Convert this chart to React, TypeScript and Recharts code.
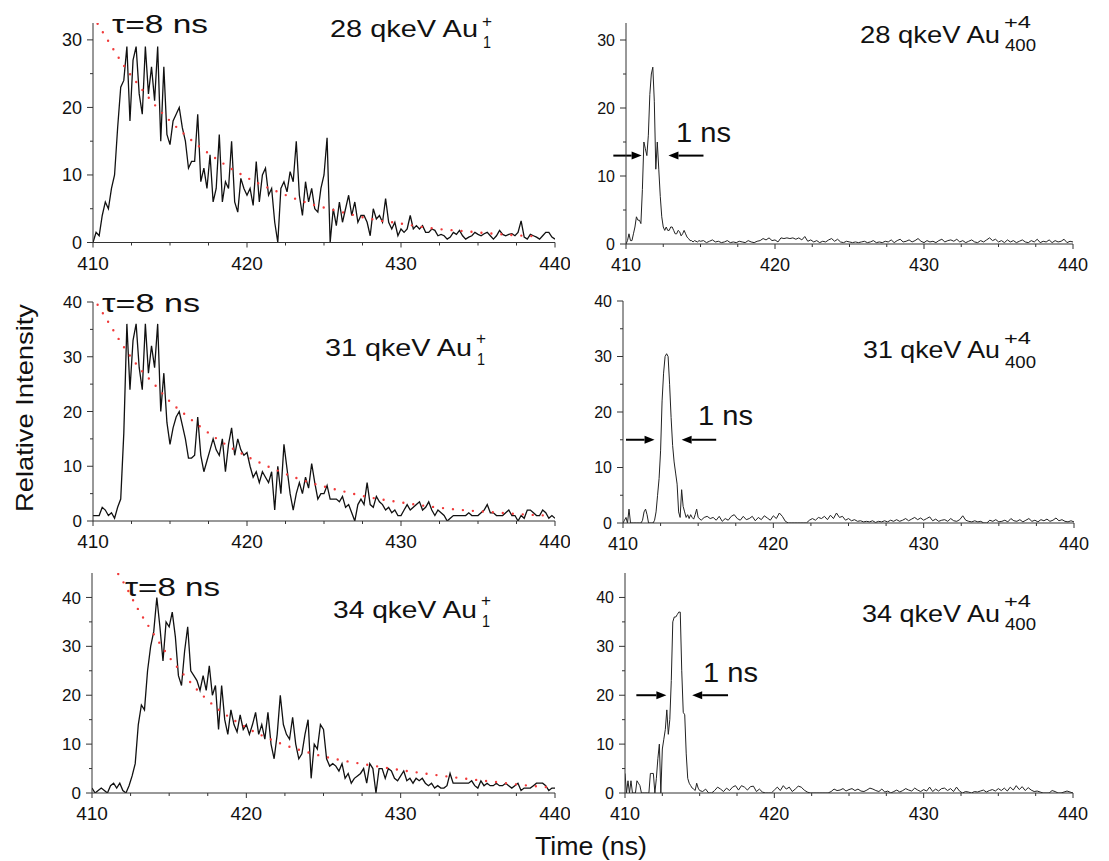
import { LineChart, Line, XAxis, YAxis, ReferenceLine } from 'recharts'

const FONT = '"Liberation Sans", Arial, Helvetica, sans-serif'
const AXIS = '#333'
const INK = '#111'
const FIT = '#f03a3a'

// sampling grids in ns
const leftTimes = Array.from({ length: 151 }, (_, i) => Math.round((410 + i * 0.2) * 10) / 10)
const rightTimes = [
  ...Array.from({ length: 51 }, (_, i) => Math.round((410 + i * 0.1) * 10) / 10),
  ...Array.from({ length: 125 }, (_, i) => Math.round((415.2 + i * 0.2) * 10) / 10),
]

const xTicks = [410, 412.5, 415, 417.5, 420, 422.5, 425, 427.5, 430, 432.5, 435, 437.5, 440]
const yTicks30 = [0, 5, 10, 15, 20, 25, 30]
const yTicks40 = [0, 5, 10, 15, 20, 25, 30, 35, 40]

// Au1+ monomer, 410..440 every 0.2 ns
const mono28 = [
  0, 1.5, 1, 4, 6,
  5, 8, 10, 17, 23,
  24, 29, 18, 27, 29,
  22, 19, 29, 22, 26,
  21, 29, 15, 26, 16,
  14.5, 18, 19, 20, 17,
  15, 11, 12, 12, 19,
  9, 11, 8, 13, 6,
  8, 16, 6, 9, 8,
  15, 6, 4.5, 9.5, 8,
  7, 8, 5.5, 12, 6,
  10, 11, 7, 8, 3,
  0, 8, 9, 7.5, 10.5,
  9, 15, 7, 4, 9,
  6, 8, 5, 4.5, 8,
  10, 15.5, 0, 5, 2.5,
  6, 3, 5, 7, 4,
  6, 3, 4, 4, 3,
  1, 5, 3.5, 4, 3,
  6.5, 3, 2, 3, 1,
  2, 1.5, 2, 4, 2,
  2.5, 2, 2.5, 1.5, 1.5,
  2, 1.8, 1, 1.2, 1,
  0.5, 0.8, 1.5, 1.2, 1.8,
  1, 0.5, 0.8, 1, 1.5,
  1.2, 1, 1.3, 1.5, 1,
  0.5, 1, 1.8, 1.2, 1,
  1.2, 1.3, 1, 1.5, 3.2,
  0.8, 0.5, 1.2, 1, 0.8,
  0.5, 1, 1.5, 1.5, 0.8,
  0.5,
]
const mono31 = [
  1, 1, 1, 2.5, 2,
  1, 1.5, 0.5, 2.5, 4,
  16, 36, 24, 33, 36,
  28, 24, 36, 27, 32,
  28, 36, 20, 27, 18,
  14, 17, 19, 20, 17.5,
  15, 11.5, 11.5, 12, 19,
  12, 9, 11, 13, 15,
  13, 12, 15, 9, 14,
  17, 12, 15, 13, 12,
  12.5, 10, 8, 9, 7,
  9, 8, 7, 9, 2,
  10, 5, 14, 9.5, 5,
  2, 5, 7, 5, 8,
  6, 10.5, 7, 4, 5,
  5, 6.5, 4, 4, 4,
  3.5, 4.5, 2.5, 3, 1.5,
  0, 3, 4, 3, 7,
  3, 2.5, 4.5, 3.5, 3,
  2, 2.5, 1.5, 2, 1,
  1, 2, 3, 2, 2.5,
  3, 3.5, 2, 2.5, 3.5,
  2, 1, 2, 1.5, 1,
  0, 0.5, 1, 1, 1,
  1, 1, 1.5, 1, 1,
  1, 1.5, 2, 3, 1.5,
  1.5, 1, 1, 1, 1.5,
  2, 1, 1, 0, 1,
  0.5, 2, 2, 1.5, 1,
  1, 2, 1.5, 0.5, 1,
  0.5,
]
const mono34 = [
  1, 0, 0.5, 1, 0.5,
  0, 1.5, 2, 1, 2,
  0.5, 0, 1.5, 3.5, 6,
  14, 18, 17, 25, 30,
  33, 40, 34, 27, 35,
  34, 37, 32, 24, 22,
  29, 34, 25, 24, 23,
  21, 24, 21, 26, 20,
  22, 13, 22, 15, 12,
  17, 14, 12.5, 16, 13,
  14, 12, 14, 16.5, 12,
  14, 11, 16.5, 10, 7,
  12, 20, 14, 12, 11,
  15.5, 10, 7, 8, 12,
  15, 3, 10, 9, 14,
  13, 7, 5.5, 6, 5.5,
  4.5, 6, 3, 4, 2,
  3, 3.5, 4, 5, 2,
  6, 5, 0, 5, 5,
  3, 5, 4.5, 3, 2.5,
  3.5, 4.5, 2.5, 3, 2,
  3, 2.5, 3, 2, 1.5,
  2, 1, 1.5, 1, 1,
  1.5, 4, 2, 2, 2,
  2, 2, 2, 2.5, 1.5,
  1, 2.5, 1.5, 2, 1.5,
  1.5, 2, 1.5, 1.5, 2,
  1.5, 1, 1.5, 2, 0.5,
  1, 1, 1, 1.5, 2,
  2, 2, 1.5, 0.5, 1,
  1,
]

// Au400 +4 clusters: 410..415 every 0.1 ns, then 415.2..440 every 0.2 ns
const clus28 = [
  0, 0.5, 1.5, 0.5, 0.5, 1.5, 2.5, 4, 3.5, 3.5,
  3, 8, 15, 14, 13, 16, 22, 25, 26, 21,
  11, 15, 11, 7, 4, 2.5, 2, 2.5, 2, 2,
  2.5, 2.5, 2, 1.5, 1.5, 2, 1.8, 1.2, 1.5, 2,
  1.5, 1, 0.8, 0.5, 0.5, 0.3, 0.5, 0.4, 0.3, 0.5,
  0.4,
  0.5, 0.2, 0.4, 0.6,
  0.3, 0.4, 0.2, 0.3, 0.5,
  0.2, 0.3, 0.2, 0.4, 0.3,
  0.2, 0.5, 0.3, 0.2, 0.4,
  0.5, 0.8, 0.6, 0.9, 0.5,
  0.6, 0.3, 0.9, 0.8, 0.9,
  0.8, 0.9, 0.7, 0.9, 0.6,
  1.1, 0.4, 0.6, 0.3, 0.5,
  0.2, 0.4, 0.3, 0.6, 0.8,
  0.4, 0.7, 0.3, 0.2, 0.4,
  0.3, 0.2, 0.3, 0.2, 0.3,
  0.4, 0.2, 0.3, 0.5, 0.2,
  0.3, 0.2, 0.4, 0.3, 0.6,
  0.2, 0.5, 0.7, 0.3, 0.4,
  0.6, 0.3, 0.5, 0.8, 0.4,
  0.2, 0.5, 0.3, 0.4, 0.2,
  0.5, 0.7, 0.3, 0.5, 0.6,
  0.4, 0.7, 0.3, 0.5, 0.2,
  0.4, 0.6, 0.3, 0.2, 0.5,
  0.3, 0.6, 0.9, 0.5, 0.7,
  0.3, 0.5, 0.2, 0.6, 0.3,
  0.5, 0.2, 0.4, 0.6, 0.3,
  0.2, 0.5, 0.3, 0.7, 0.2,
  0.4, 0.3, 0.6, 0.2, 0.5,
  0.3, 0.4, 0.7, 0.2, 0.4,
  0.3,
]
const clus31 = [
  0, 0.5, 1, 0, 2.5, 0, 0, 0, 0, 0,
  0, 0, 0, 0.5, 2, 2.5, 1.5, 0, 0, 0,
  0, 0.5, 2, 5, 8, 13, 22, 27, 30, 30.5,
  30, 25, 19, 14, 11, 9, 7, 2, 1, 6,
  3, 2, 1, 1.5, 0.8, 1.5, 1, 0.7, 1.5, 2.5,
  1,
  0.5, 1, 1.2, 0.8,
  1, 0.5, 1.2, 0.3, 0.8,
  0.5, 1.2, 1.5, 0.8, 0.5,
  1.2, 0.6, 0.8, 1.2, 0.4,
  1, 0.6, 1.3, 0.9, 0.5,
  1.3, 0.8, 1.8, 1.2, 0.3,
  0, 0, 0, 0, 0,
  0, 0, 0.5, 0.8, 0.5,
  1, 0.8, 1.2, 0.6, 1.4,
  0.8, 1.8, 1, 1.2, 0.5,
  0.8, 0.4, 0.6, 0.3, 0.4,
  0.2, 0.3, 0.2, 0.4, 0.1,
  0.3, 0.2, 0.4, 0.2, 0.5,
  0.3, 0.6, 0.3, 0.5, 0.8,
  0.4, 0.7, 1, 0.6, 0.9,
  0.5, 0.8, 1.1, 0.4, 0.7,
  0.3, 0.5, 0.6, 0.3, 0.8,
  0.4, 0.3, 0.6, 1.3, 0.5,
  0.3, 0.2, 0.4, 0.2, 0.3,
  0, 0, 0.5, 0.3, 0.6,
  0.2, 0.3, 0.5, 0.2, 0.8,
  0.4, 0.3, 0.6, 0.2, 0.5,
  0.8, 0.3, 0.5, 0.2, 0.6,
  0.4, 0.7, 0.3, 0.5, 0.9,
  0.4, 0.6, 0.3, 0.2, 0.4,
  0.2,
]
const clus34 = [
  4, 0, 2.5, 0, 2.5, 0, 0, 0, 2.5, 2,
  1.5, 0, 0, 0, 0, 0, 0, 4, 4, 4,
  0, 3, 7, 10, 0, 9, 11, 13, 17, 12,
  15, 23, 35, 36, 36, 36.5, 37, 37, 25, 16.5,
  16, 8, 3, 2, 1.5, 1, 0.8, 0.5, 2, 1,
  0.5,
  0.3, 0.8, 0, 0,
  0.5, 1.2, 0.8, 0.3, 1,
  0.5, 1.2, 1.5, 0.6, 1.5,
  1.2, 0.6, 1.3, 1.4, 0.3,
  0.8, 0.2, 0, 0, 0,
  0.6, 1.2, 0.5, 1.5, 0.8,
  1.2, 0.3, 0.8, 1.4, 1.2,
  0.6, 0.2, 0, 0, 0,
  0, 0, 0, 0, 0.3,
  0.8, 0.5, 0.6, 0.9, 0.4,
  0.7, 0.9, 0.5, 0.8, 0.4,
  0.3, 0.6, 1, 0.8, 0.5,
  0.3, 0.8, 0.2, 0.4, 0,
  0.3, 0.6, 0.2, 0.5, 0.9,
  0.6, 0.4, 1, 0.6, 0.3,
  0.7, 0.4, 1.2, 0.3, 0.8,
  0.4, 0.9, 1, 0.5, 0.9,
  0.3, 1.2, 0.4, 0, 0.3,
  0.2, 0, 0.3, 0.2, 0.4,
  0.6, 0.2, 0.5, 0.7, 0.4,
  0.9, 0.5, 1, 0.4, 1.2,
  0.6, 1.5, 0.7, 1.3, 0.5,
  1.1, 0.6, 0.3, 0.4, 0.2,
  0, 0, 0, 0.5, 0.3,
  0, 0, 0.2, 0.4, 0.2,
  0,
]

// tau = 8 ns decay fits (red dots)
const fit28Times = [410.3, 411, 412, 413, 414, 415, 416, 418, 420, 422, 424, 426, 428, 430, 432, 434, 436, 438, 439]
const fit28 = [32.4, 29.8, 26.2, 23.2, 20.4, 18.0, 15.9, 12.4, 9.6, 7.5, 5.8, 4.6, 3.5, 2.8, 2.1, 1.7, 1.3, 1.0, 0.9]
const fit31Times = [410.3, 411, 412, 413, 414, 415, 416, 418, 420, 422, 424, 426, 428, 430, 432, 434, 436, 438, 439.5]
const fit31 = [39.5, 36.3, 31.8, 28.0, 24.9, 21.8, 19.4, 15.1, 11.8, 9.2, 7.1, 5.6, 4.3, 3.4, 2.6, 2.0, 1.6, 1.2, 1.0]
const fit34Times = [411.7, 412, 413, 414, 415, 416, 417, 418, 419, 420, 422, 424, 426, 428, 430, 432, 434, 436, 438, 439.5]
const fit34 = [44.8, 43.3, 37.5, 32.5, 27.8, 24, 20.5, 17.6, 15.3, 13.4, 10.4, 8.3, 6.8, 5.7, 4.7, 3.8, 3.0, 2.3, 1.6, 1.2]

// FWHM arrows: [tail, tip] in ns at a given intensity
const arrows28 = { level: 13, left: [409.15, 411.05], right: [415.2, 412.85] }
const arrows31 = { level: 15, left: [410.2, 412.1], right: [416.2, 413.9] }
const arrows34 = { level: 20, left: [410.76, 412.77], right: [416.9, 414.5] }

const toPoints = (ts: number[], vs: number[]) => ts.map((t, i) => ({ t, v: vs[i] }))

const Arrow = (props: any) => {
  const { x1, y1, x2, y2 } = props
  const dir = Math.sign(x2 - x1)
  const head = 10
  return (
    <g>
      <line x1={x1} y1={y1} x2={x2 - dir * head} y2={y2} stroke="#000" strokeWidth={2} />
      <polygon
        points={`${x2},${y2} ${x2 - dir * head},${y2 - 4} ${x2 - dir * head},${y2 + 4}`}
        fill="#000"
      />
    </g>
  )
}

type PanelProps = {
  left: number
  top: number
  width: number
  height: number
  yMax: number
  yTicks: number[]
  yFont: number
  xFont: number
  data: { t: number; v: number }[]
  fit?: { t: number; v: number }[]
  arrows?: { level: number; left: number[]; right: number[] }
  thin?: boolean
}

function Panel({ left, top, width, height, yMax, yTicks, yFont, xFont, data, fit, arrows, thin }: PanelProps) {
  // axis boxes take 60px on the left and 30px at the bottom
  const m = { left: 20, top: 10, right: 15, bottom: 10 }
  const yw = 60
  const xh = 30
  return (
    <div style={{ position: 'absolute', left: left - m.left - yw, top: top - m.top }}>
      <LineChart width={width + m.left + yw + m.right} height={height + m.top + xh + m.bottom} margin={m}>
        <XAxis
          type="number"
          dataKey="t"
          domain={[410, 440]}
          ticks={xTicks}
          interval={0}
          allowDataOverflow
          height={xh}
          tickSize={0}
          tickMargin={0}
          tickLine={false}
          axisLine={{ stroke: AXIS, strokeWidth: 1 }}
          tick={(p: any) => {
            const major = p.payload.value % 10 === 0
            return (
              <g>
                <line x1={p.x} y1={p.y} x2={p.x} y2={p.y + (major ? 5 : 3)} stroke={AXIS} />
                {major && (
                  <text x={p.x} y={p.y + 27} textAnchor="middle" fontSize={xFont} fontFamily={FONT} fill={INK}>
                    {p.payload.value}
                  </text>
                )}
              </g>
            )
          }}
        />
        <YAxis
          type="number"
          domain={[0, yMax]}
          ticks={yTicks}
          interval={0}
          allowDataOverflow
          width={yw}
          tickSize={0}
          tickMargin={0}
          tickLine={false}
          axisLine={{ stroke: AXIS, strokeWidth: 1 }}
          tick={(p: any) => {
            const major = p.payload.value % 10 === 0
            return (
              <g>
                <line x1={p.x - (major ? 6 : 3)} y1={p.y} x2={p.x} y2={p.y} stroke={AXIS} />
                {major && (
                  <text x={p.x - 11} y={p.y} dy="0.36em" textAnchor="end" fontSize={yFont} fontFamily={FONT} fill={INK}>
                    {p.payload.value}
                  </text>
                )}
              </g>
            )
          }}
        />
        <Line
          data={data}
          dataKey="v"
          type="linear"
          stroke={thin ? '#222' : '#111'}
          strokeWidth={thin ? 1 : 1.3}
          dot={false}
          isAnimationActive={false}
        />
        {fit && (
          <Line
            data={fit}
            dataKey="v"
            type="monotone"
            stroke={FIT}
            strokeWidth={2.4}
            strokeDasharray="0 10"
            strokeLinecap="round"
            dot={false}
            isAnimationActive={false}
          />
        )}
        {arrows && (
          <ReferenceLine
            segment={[{ x: arrows.left[0], y: arrows.level }, { x: arrows.left[1], y: arrows.level }]}
            ifOverflow="visible"
            shape={Arrow}
          />
        )}
        {arrows && (
          <ReferenceLine
            segment={[{ x: arrows.right[0], y: arrows.level }, { x: arrows.right[1], y: arrows.level }]}
            ifOverflow="visible"
            shape={Arrow}
          />
        )}
      </LineChart>
    </div>
  )
}

function Title({ x, y, w, label, sup, sub, supW, subW, supDy, subDy }: any) {
  return (
    <g>
      <text x={x} y={y} fontSize={24} textLength={w} lengthAdjust="spacingAndGlyphs">
        {label}
      </text>
      <text x={x + w + 4} y={y + supDy} fontSize={16} textLength={supW} lengthAdjust="spacingAndGlyphs">
        {sup}
      </text>
      <text x={x + w + 5} y={y + subDy} fontSize={17} textLength={subW} lengthAdjust="spacingAndGlyphs">
        {sub}
      </text>
    </g>
  )
}

export default function App() {
  return (
    <div
      style={{
        position: 'absolute',
        left: 0,
        top: 0,
        width: 1109,
        height: 861,
        background: '#fff',
        overflow: 'hidden',
      }}
    >
      <Panel left={93} top={23} width={462} height={219.5} yMax={32.5} yTicks={yTicks30} yFont={18} xFont={19}
        data={toPoints(leftTimes, mono28)} fit={toPoints(fit28Times, fit28)} />
      <Panel left={626} top={23} width={447} height={221} yMax={32.5} yTicks={yTicks30} yFont={16} xFont={18}
        data={toPoints(rightTimes, clus28)} arrows={arrows28} thin />
      <Panel left={93} top={302} width={462} height={219} yMax={40} yTicks={yTicks40} yFont={17} xFont={19}
        data={toPoints(leftTimes, mono31)} fit={toPoints(fit31Times, fit31)} />
      <Panel left={623} top={301} width={451} height={222} yMax={40} yTicks={yTicks40} yFont={16} xFont={18}
        data={toPoints(rightTimes, clus31)} arrows={arrows31} thin />
      <Panel left={92} top={573} width={463} height={220} yMax={45} yTicks={yTicks40} yFont={17} xFont={19}
        data={toPoints(leftTimes, mono34)} fit={toPoints(fit34Times, fit34)} />
      <Panel left={625} top={573} width={448} height={220} yMax={45} yTicks={yTicks40} yFont={16} xFont={18}
        data={toPoints(rightTimes, clus34)} arrows={arrows34} thin />

      <svg
        width={1109}
        height={861}
        style={{ position: 'absolute', left: 0, top: 0, pointerEvents: 'none' }}
        fontFamily={FONT}
        fill={INK}
      >
        <text x={112} y={33} fontSize={26} textLength={96} lengthAdjust="spacingAndGlyphs">τ=8 ns</text>
        <text x={102} y={312} fontSize={26} textLength={98} lengthAdjust="spacingAndGlyphs">τ=8 ns</text>
        <text x={125} y={596} fontSize={26} textLength={95} lengthAdjust="spacingAndGlyphs">τ=8 ns</text>

        <Title x={330} y={37} w={148} label="28 qkeV Au" sup="+" sub="1" supW={10} subW={8} supDy={-10} subDy={11} />
        <Title x={325} y={356} w={147} label="31 qkeV Au" sup="+" sub="1" supW={10} subW={8} supDy={-12} subDy={9} />
        <Title x={333} y={618} w={144} label="34 qkeV Au" sup="+" sub="1" supW={10} subW={8} supDy={-12} subDy={9} />

        <Title x={860} y={43} w={140} label="28 qkeV Au" sup="+4" sub="400" supW={27} subW={31} supDy={-15} subDy={8} />
        <Title x={863} y={358} w={137} label="31 qkeV Au" sup="+4" sub="400" supW={27} subW={31} supDy={-14} subDy={10} />
        <Title x={862} y={622} w={138} label="34 qkeV Au" sup="+4" sub="400" supW={27} subW={31} supDy={-15} subDy={8} />

        <text x={676} y={142} fontSize={27} textLength={55} lengthAdjust="spacingAndGlyphs">1 ns</text>
        <text x={698} y={425} fontSize={27} textLength={55} lengthAdjust="spacingAndGlyphs">1 ns</text>
        <text x={703} y={682} fontSize={27} textLength={55} lengthAdjust="spacingAndGlyphs">1 ns</text>

        <text
          transform="translate(33,408) rotate(-90)"
          textAnchor="middle"
          fontSize={24}
          textLength={208}
          lengthAdjust="spacingAndGlyphs"
        >
          Relative Intensity
        </text>
        <text x={591} y={855} textAnchor="middle" fontSize={25} textLength={112} lengthAdjust="spacingAndGlyphs">
          Time (ns)
        </text>
      </svg>
    </div>
  )
}
